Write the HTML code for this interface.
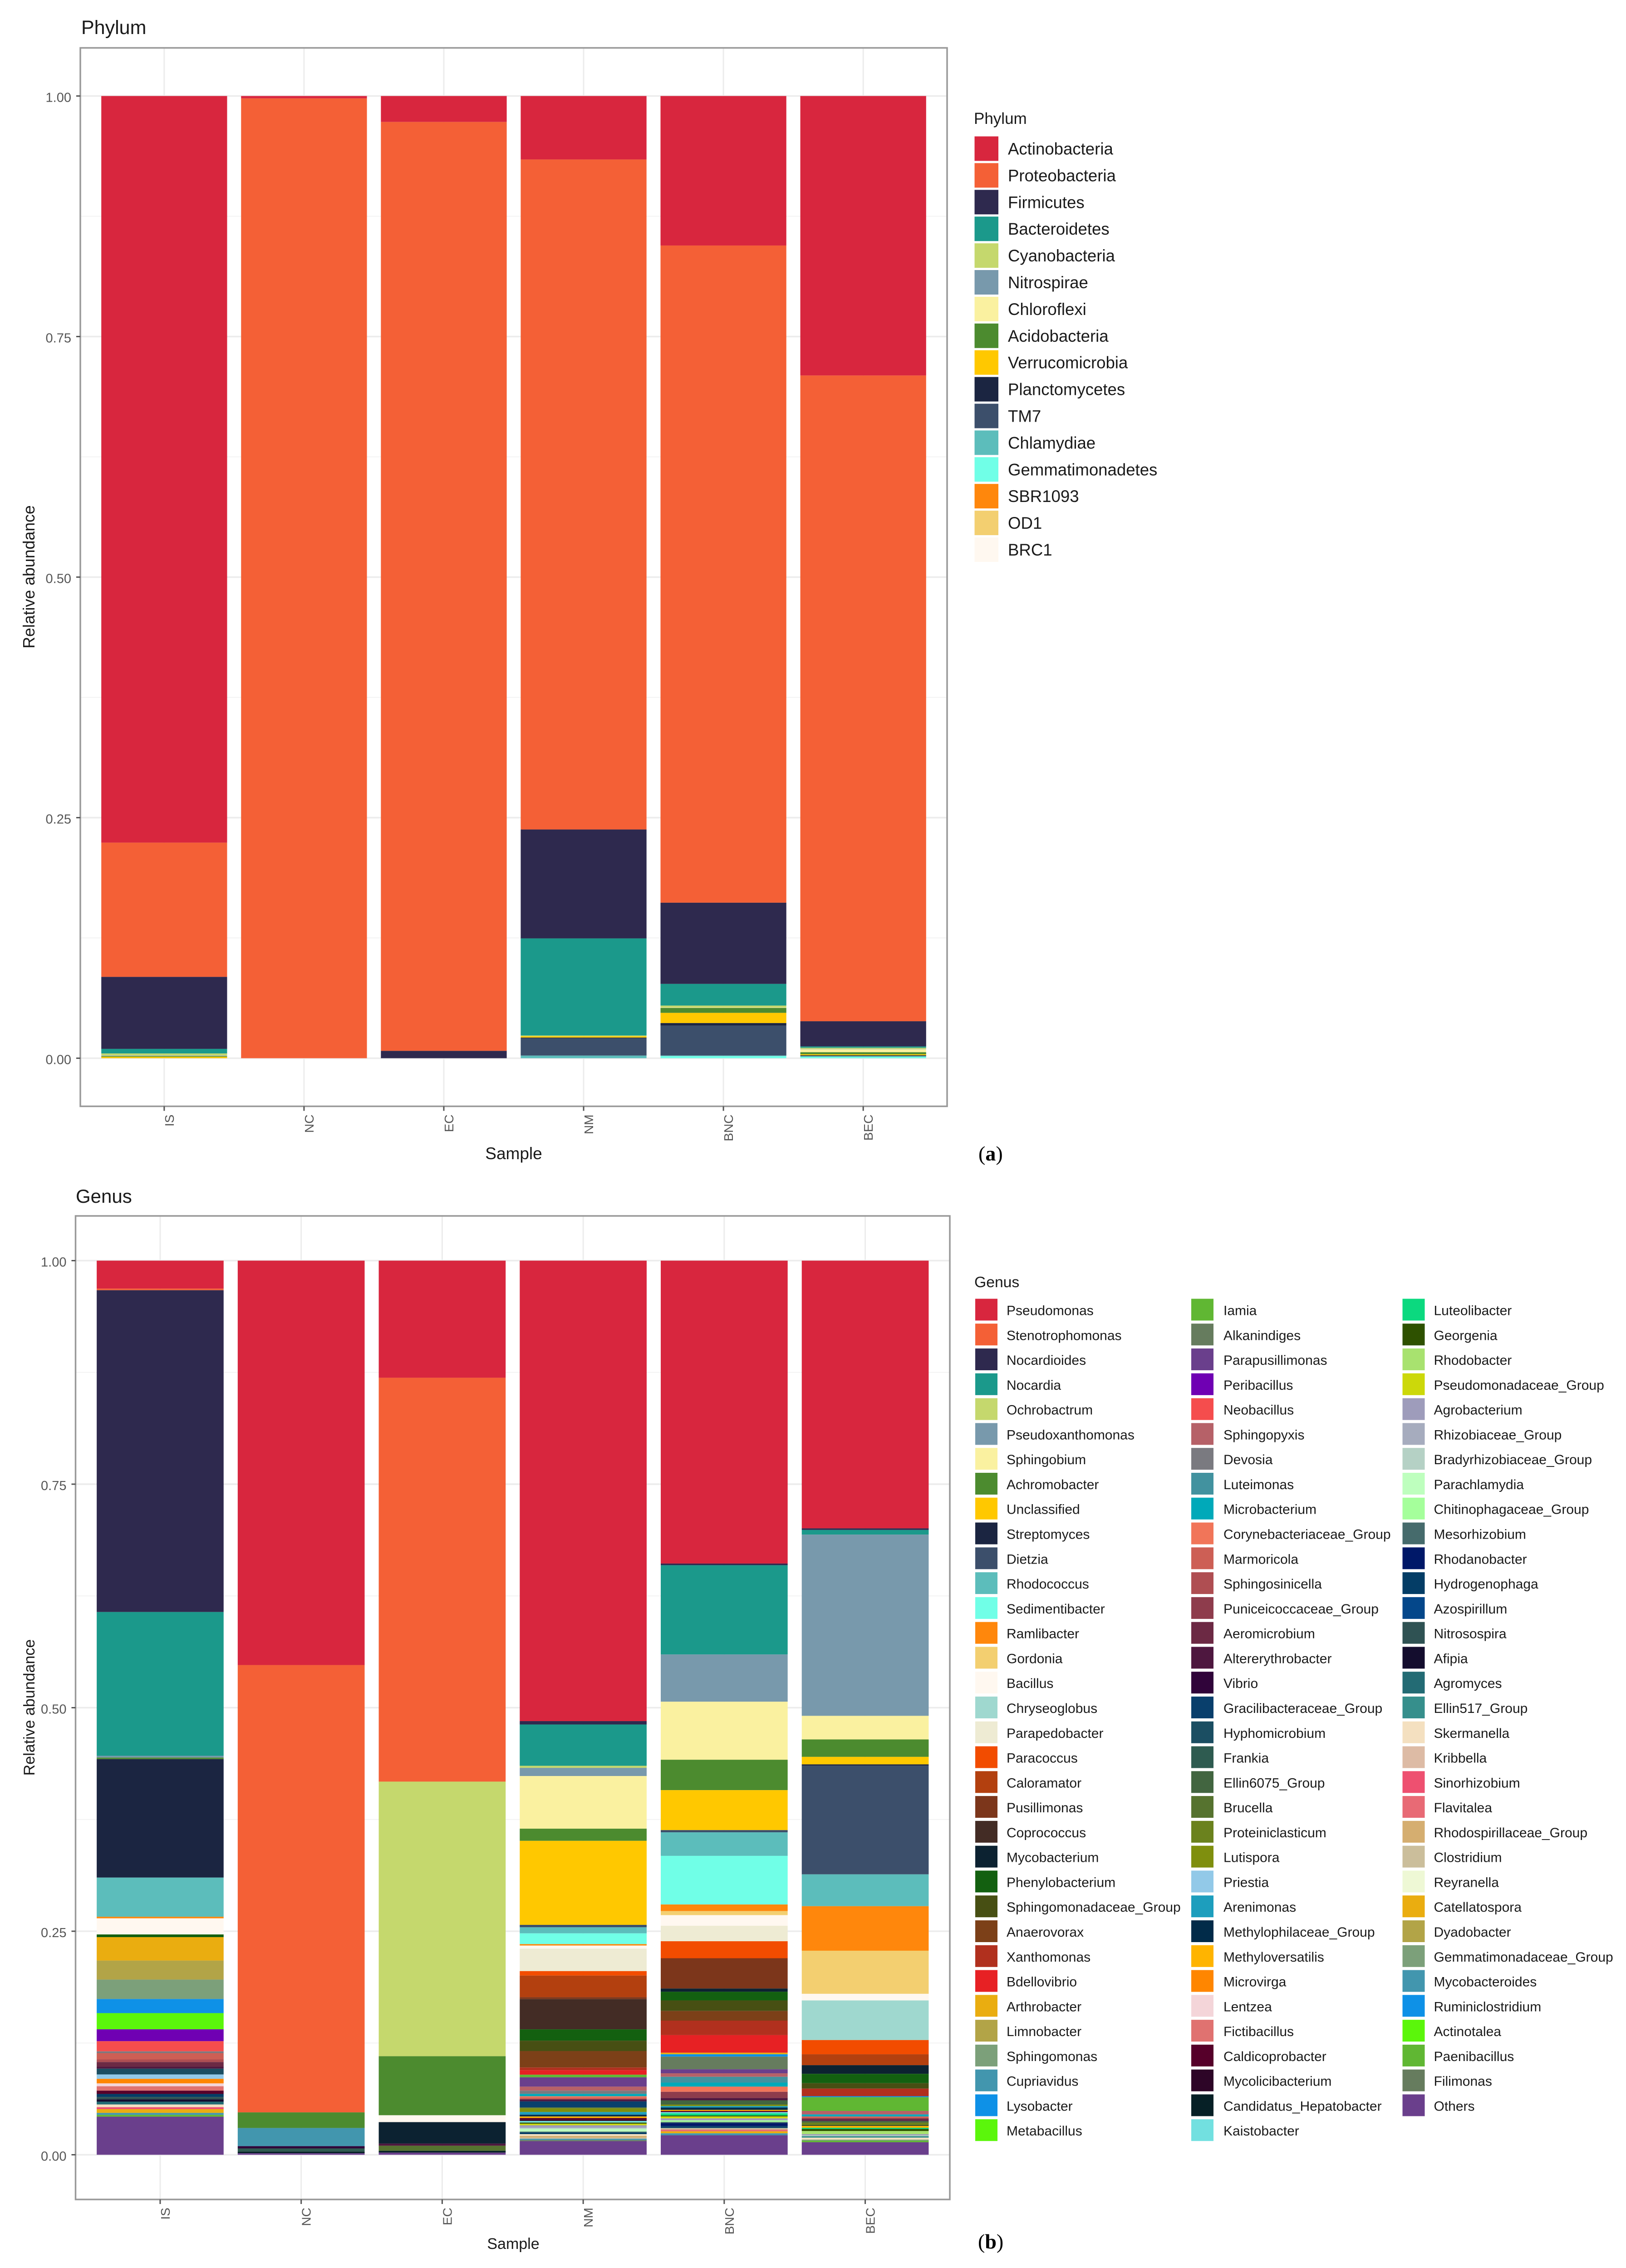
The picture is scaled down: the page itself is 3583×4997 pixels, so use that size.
<!DOCTYPE html>
<html lang="en">
<head>
<meta charset="utf-8">
<title>Relative abundance by Phylum and Genus</title>
<style>
html,body{margin:0;padding:0;background:#fff;}
body{width:3583px;height:4997px;overflow:hidden;}
svg{display:block;font-family:"Liberation Sans",sans-serif;}
</style>
</head>
<body>
<svg id="figure" xmlns="http://www.w3.org/2000/svg" width="3583" height="4997" viewBox="0 0 3583 4997">
  <rect x="0" y="0" width="3583" height="4997" fill="#ffffff"/>
</svg>
<script>
const sampleLabels = ["IS","NC","EC","NM","BNC","BEC"];
const yTickLabels = ["0.00","0.25","0.50","0.75","1.00"];
const yTickValues = [0,0.25,0.5,0.75,1];
const yMinorValues = [0.125,0.375,0.625,0.875];

const phylumNames = ["Actinobacteria","Proteobacteria","Firmicutes","Bacteroidetes","Cyanobacteria","Nitrospirae","Chloroflexi","Acidobacteria","Verrucomicrobia","Planctomycetes","TM7","Chlamydiae","Gemmatimonadetes","SBR1093","OD1","BRC1"];
const phylumIS  = [0.776,0.1395,0.0748,0.0048,0.0019,0.0004,0.0004,0.0008,0.0014,0,0,0,0,0,0,0];
const phylumNC  = [0.0025,0.9975,0,0,0,0,0,0,0,0,0,0,0,0,0,0];
const phylumEC  = [0.027,0.9654,0.0076,0,0,0,0,0,0,0,0,0,0,0,0,0];
const phylumNM  = [0.066,0.6963,0.1132,0.1009,0.0009,0,0,0,0.0013,0.0008,0.0179,0.0027,0,0,0,0];
const phylumBNC = [0.1554,0.683,0.0844,0.0225,0.0019,0,0.0005,0.0052,0.0106,0.0027,0.0311,0.0005,0.0022,0,0,0];
const phylumBEC = [0.2905,0.6711,0.0262,0.0014,0.0011,0.0003,0.0032,0.0021,0.0011,0.0008,0,0.0008,0.0014,0,0,0];
const phylumSeries = [phylumIS,phylumNC,phylumEC,phylumNM,phylumBNC,phylumBEC];

const genusNames = ["Pseudomonas","Stenotrophomonas","Nocardioides","Nocardia","Ochrobactrum","Pseudoxanthomonas","Sphingobium","Achromobacter","Unclassified","Streptomyces","Dietzia","Rhodococcus","Sedimentibacter","Ramlibacter","Gordonia","Bacillus","Chryseoglobus","Parapedobacter","Paracoccus","Caloramator","Pusillimonas","Coprococcus","Mycobacterium","Phenylobacterium","Sphingomonadaceae_Group","Anaerovorax","Xanthomonas","Bdellovibrio","Arthrobacter","Limnobacter","Sphingomonas","Cupriavidus","Lysobacter","Metabacillus","Iamia","Alkanindiges","Parapusillimonas","Peribacillus","Neobacillus","Sphingopyxis","Devosia","Luteimonas","Microbacterium","Corynebacteriaceae_Group","Marmoricola","Sphingosinicella","Puniceicoccaceae_Group","Aeromicrobium","Altererythrobacter","Vibrio","Gracilibacteraceae_Group","Hyphomicrobium","Frankia","Ellin6075_Group","Brucella","Proteiniclasticum","Lutispora","Priestia","Arenimonas","Methylophilaceae_Group","Methyloversatilis","Microvirga","Lentzea","Fictibacillus","Caldicoprobacter","Mycolicibacterium","Candidatus_Hepatobacter","Kaistobacter","Luteolibacter","Georgenia","Rhodobacter","Pseudomonadaceae_Group","Agrobacterium","Rhizobiaceae_Group","Bradyrhizobiaceae_Group","Parachlamydia","Chitinophagaceae_Group","Mesorhizobium","Rhodanobacter","Hydrogenophaga","Azospirillum","Nitrosospira","Afipia","Agromyces","Ellin517_Group","Skermanella","Kribbella","Sinorhizobium","Flavitalea","Rhodospirillaceae_Group","Clostridium","Reyranella","Catellatospora","Dyadobacter","Gemmatimonadaceae_Group","Mycobacteroides","Ruminiclostridium","Actinotalea","Paenibacillus","Filimonas","Others"];
const paletteColors = ["#D8263E","#F46036","#2E294E","#1B998B","#C5D86D","#7899AC","#FAF1A0","#4C8B2F","#FFC800","#1B2541","#3C4F6B","#5CBDBB","#70FFE7","#FF870C","#F3CF70","#FFF8F0","#9FD8CF","#EEEBD3","#F24C00","#B3400F","#7C361B","#432C25","#0C2231","#136010","#474F13","#7C4018","#B1301E","#E72124","#EAAD10","#B2A447","#7CA07A","#4296AE","#0E91E7","#5BF60B","#60B733","#667C5E","#6A3F8C","#6F00B3","#F54D4D","#B66168","#7A7A80","#42929F","#00A9B9","#F17559","#CD5F55","#AF4E52","#8E3C4C","#6C2944","#4E173F","#30043A","#093F6C","#1B4E62","#2E5B50","#426540","#56732F","#6B821E","#7F8F0E","#92C9E8","#1D9EBD","#012B49","#FFB400","#FF8600","#F4D5D9","#E07270","#56002A","#2D0527","#062026","#72E0E0","#0BD97F","#2E5100","#A8E26F","#CCD80A","#9E9CBB","#A6ACBE","#B5D1C5","#BEFFBE","#A5FF9B","#466B6C","#001868","#043D66","#04478A","#2F5253","#140D2E","#236B74","#368F8C","#F4E0C0","#DDBBA5","#EE5070","#E86A75","#D5AE70","#CBBE9B","#EEF8D5","#EAAD10","#B2A447","#7CA07A","#4296AE","#0E91E7","#5BF60B","#60B733","#667C5E","#6A3F8C"];

const genusIS_taxa = ["Pseudomonas","Stenotrophomonas","Nocardioides","Nocardia","Pseudoxanthomonas","Achromobacter","Streptomyces","Rhodococcus","Ramlibacter","Bacillus","Phenylobacterium","Arthrobacter","Limnobacter","Sphingomonas","Lysobacter","Metabacillus","Peribacillus","Neobacillus","Devosia","Marmoricola","Sphingosinicella","Aeromicrobium","Altererythrobacter","Hyphomicrobium","Priestia","Microvirga","Lentzea","Fictibacillus","Caldicoprobacter","Hydrogenophaga","Nitrosospira","Afipia","Agromyces","Skermanella","Sinorhizobium","Catellatospora","Mycobacteroides","Paenibacillus","Others"];
const genusIS_values = [0.0313,0.0018,0.3599,0.1608,0.002,0.0017,0.1325,0.0438,0.0018,0.018,0.003,0.0262,0.0213,0.0217,0.0158,0.0181,0.0133,0.0114,0.0019,0.0071,0.0029,0.0052,0.0022,0.0065,0.0049,0.0051,0.0032,0.0049,0.0037,0.0034,0.0026,0.0026,0.0032,0.003,0.0022,0.0042,0.0022,0.002,0.0426];

const genusNC_taxa = ["Pseudomonas","Stenotrophomonas","Achromobacter","Cupriavidus","Vibrio","Frankia","Candidatus_Hepatobacter","Others"];
const genusNC_values = [0.4523,0.5003,0.0175,0.0203,0.0025,0.0036,0.0018,0.0017];

const genusEC_taxa = ["Pseudomonas","Stenotrophomonas","Ochrobactrum","Achromobacter","Bacillus","Mycobacterium","Altererythrobacter","Brucella","Candidatus_Hepatobacter","Others"];
const genusEC_values = [0.131,0.4517,0.3071,0.066,0.0077,0.024,0.0024,0.0057,0.002,0.0024];

const genusNM_taxa = ["Pseudomonas","Nocardioides","Nocardia","Ochrobactrum","Pseudoxanthomonas","Sphingobium","Achromobacter","Unclassified","Dietzia","Rhodococcus","Sedimentibacter","Ramlibacter","Bacillus","Parapedobacter","Paracoccus","Caloramator","Pusillimonas","Coprococcus","Phenylobacterium","Sphingomonadaceae_Group","Anaerovorax","Xanthomonas","Bdellovibrio","Iamia","Parapusillimonas","Sphingopyxis","Devosia","Microbacterium","Corynebacteriaceae_Group","Marmoricola","Altererythrobacter","Gracilibacteraceae_Group","Brucella","Lutispora","Arenimonas","Methylophilaceae_Group","Methyloversatilis","Caldicoprobacter","Candidatus_Hepatobacter","Kaistobacter","Georgenia","Pseudomonadaceae_Group","Agrobacterium","Bradyrhizobiaceae_Group","Parachlamydia","Mesorhizobium","Hydrogenophaga","Skermanella","Rhodospirillaceae_Group","Clostridium","Mycobacteroides","Filimonas","Others"];
const genusNM_values = [0.515,0.0038,0.0462,0.0023,0.0091,0.0589,0.0136,0.094,0.0027,0.0068,0.012,0.0016,0.0035,0.0251,0.005,0.0242,0.0022,0.0337,0.0127,0.0116,0.0184,0.003,0.0051,0.0029,0.0104,0.0045,0.0036,0.0027,0.0013,0.0021,0.0023,0.0068,0.001,0.0041,0.003,0.002,0.0017,0.0028,0.0006,0.0017,0.0013,0.0017,0.0028,0.0013,0.003,0.001,0.0018,0.002,0.002,0.0012,0.0015,0.0012,0.0152];

const genusBNC_taxa = ["Pseudomonas","Nocardioides","Nocardia","Pseudoxanthomonas","Sphingobium","Achromobacter","Unclassified","Dietzia","Rhodococcus","Sedimentibacter","Ramlibacter","Gordonia","Bacillus","Parapedobacter","Paracoccus","Pusillimonas","Mycobacterium","Phenylobacterium","Sphingomonadaceae_Group","Anaerovorax","Xanthomonas","Bdellovibrio","Arthrobacter","Lysobacter","Alkanindiges","Parapusillimonas","Sphingopyxis","Luteimonas","Microbacterium","Corynebacteriaceae_Group","Puniceicoccaceae_Group","Altererythrobacter","Ellin6075_Group","Lutispora","Arenimonas","Methylophilaceae_Group","Methyloversatilis","Caldicoprobacter","Kaistobacter","Luteolibacter","Georgenia","Pseudomonadaceae_Group","Agrobacterium","Chitinophagaceae_Group","Mesorhizobium","Rhodanobacter","Hydrogenophaga","Clostridium","Flavitalea","Catellatospora","Mycobacteroides","Others"];
const genusBNC_values = [0.3388,0.0019,0.0998,0.0528,0.0649,0.034,0.0447,0.0025,0.0263,0.0544,0.0074,0.0045,0.0119,0.0173,0.019,0.0339,0.0036,0.0097,0.0118,0.0108,0.0162,0.0197,0.0017,0.0026,0.0142,0.0045,0.0039,0.0065,0.0045,0.0058,0.007,0.0025,0.0048,0.0017,0.0016,0.0026,0.0012,0.0013,0.0014,0.0024,0.0011,0.0021,0.0022,0.0018,0.0012,0.0034,0.0022,0.0017,0.002,0.0022,0.0022,0.0218];

const genusBEC_taxa = ["Pseudomonas","Nocardioides","Nocardia","Pseudoxanthomonas","Sphingobium","Achromobacter","Unclassified","Streptomyces","Dietzia","Rhodococcus","Ramlibacter","Gordonia","Bacillus","Chryseoglobus","Paracoccus","Caloramator","Mycobacterium","Phenylobacterium","Sphingomonadaceae_Group","Xanthomonas","Lysobacter","Iamia","Sphingopyxis","Microbacterium","Marmoricola","Aeromicrobium","Altererythrobacter","Ellin6075_Group","Proteiniclasticum","Candidatus_Hepatobacter","Methyloversatilis","Luteolibacter","Georgenia","Rhodobacter","Agrobacterium","Bradyrhizobiaceae_Group","Ellin517_Group","Skermanella","Gemmatimonadaceae_Group","Paenibacillus","Others"];
const genusBEC_values = [0.2994,0.0018,0.0052,0.2027,0.0264,0.0195,0.0084,0.0015,0.1215,0.0356,0.0498,0.0482,0.0074,0.0443,0.0159,0.0122,0.0097,0.0104,0.0061,0.0085,0.0011,0.0154,0.0039,0.0023,0.0022,0.0019,0.001,0.0017,0.003,0.0007,0.0021,0.0013,0.0024,0.0034,0.0013,0.001,0.0017,0.0022,0.0012,0.0017,0.014];

const genusTaxa = [genusIS_taxa,genusNC_taxa,genusEC_taxa,genusNM_taxa,genusBNC_taxa,genusBEC_taxa];
const genusSeries = [genusIS_values,genusNC_values,genusEC_values,genusNM_values,genusBNC_values,genusBEC_values];

const svg = document.getElementById('figure');
const NS = 'http://www.w3.org/2000/svg';

function make(tag, parent, props){
  const el = document.createElementNS(NS, tag);
  for (const k in props) el.setAttribute(k, props[k]);
  parent.appendChild(el);
  return el;
}

function drawAxesFrame(g, p){
  const xScale = i => p.left + (i + 0.6) * (p.right - p.left) / 6.2;
  const yScale = v => p.bottom - (v + 0.05) * (p.bottom - p.top) / 1.1;
  yMinorValues.forEach(v => {
    const line = make('line', g, {x1:p.left, x2:p.right, y1:yScale(v), y2:yScale(v), stroke:'#f3f3f3', 'stroke-width':2});
    
    
  });
  yTickValues.forEach(v => {
    const line = make('line', g, {x1:p.left, x2:p.right, y1:yScale(v), y2:yScale(v), stroke:'#ececec', 'stroke-width':3.5});
    
    
  });
  sampleLabels.forEach((s, i) => {
    const line = make('line', g, {x1:xScale(i), x2:xScale(i), y1:p.top, y2:p.bottom, stroke:'#ececec', 'stroke-width':3});
    
    
  });
  return {xScale, yScale};
}

function drawPanelDecor(g, p, sc){
  const frame = make('rect', g, {x:p.left, y:p.top, width:p.right-p.left, height:p.bottom-p.top, fill:'none', stroke:'#999999', 'stroke-width':3.5});
  
  

  yTickValues.forEach((v, i) => {
    const tick = make('line', g, {x1:p.left-9, x2:p.left, y1:sc.yScale(v), y2:sc.yScale(v), stroke:'#555555', 'stroke-width':3});
    
    
    const label = make('text', g, {x:p.left-20, y:sc.yScale(v)+13, 'text-anchor':'end', 'font-size':29, fill:'#555555'});
    label.textContent = yTickLabels[i];
    
    
  });
  sampleLabels.forEach((s, i) => {
    const x = sc.xScale(i);
    const tick = make('line', g, {x1:x, x2:x, y1:p.bottom, y2:p.bottom+10, stroke:'#555555', 'stroke-width':3});
    
    
    const bx = x + p.xLabelShift;
    const ty = p.bottom + 18;
    const label = make('text', g, {x:bx, y:ty, 'text-anchor':'end', 'font-size':28, fill:'#555555', transform:'rotate(-90 '+bx+' '+ty+')'});
    label.textContent = s;
    
    
  });
}

function drawText(g, content, x, y, size, name, extra){
  const t = make('text', g, Object.assign({x:x, y:y, 'font-size':size, fill:'#1a1a1a'}, extra || {}));
  t.textContent = content;
  
  
  return t;
}

function drawStack(g, sc, p, i, taxa, values, allNames){
  const step = (p.right - p.left) / 6.2;
  const w = step * 0.9;
  let cum = 1;
  values.forEach((v, k) => {
    if (v <= 0) return;
    const yTop = sc.yScale(cum);
    const yBot = sc.yScale(cum - v);
    const color = paletteColors[allNames.indexOf(taxa[k])];
    const seg = make('rect', g, {x:sc.xScale(i)-w/2, y:yTop, width:w, height:yBot-yTop, fill:color});
    
    
    cum -= v;
  });
}

/* Panel A: Phylum */
const panelA = {left:177, right:2087, top:105.5, bottom:2437.5, xLabelShift:21};
const chartA = make('g', svg, {});


const scaleA = drawAxesFrame(chartA, panelA);
phylumSeries.forEach((vals, i) => drawStack(chartA, scaleA, panelA, i, phylumNames, vals, phylumNames));
drawPanelDecor(chartA, panelA, scaleA);
drawText(chartA, 'Phylum', 179, 75, 43, 'phylum-chart-title');
drawText(chartA, 'Sample', 1132, 2554, 37, 'x-axis-title', {'text-anchor':'middle'});
drawText(chartA, 'Relative abundance', 76, 1271, 35.7, 'y-axis-title', {'text-anchor':'middle', transform:'rotate(-90 76 1271)'});

/* Panel B: Genus */
const panelB = {left:166.5, right:2093, top:2679, bottom:4846, xLabelShift:21};
const chartB = make('g', svg, {});


const scaleB = drawAxesFrame(chartB, panelB);
genusSeries.forEach((vals, i) => drawStack(chartB, scaleB, panelB, i, genusTaxa[i], vals, genusNames));
drawPanelDecor(chartB, panelB, scaleB);
drawText(chartB, 'Genus', 167, 2650, 42, 'genus-chart-title');
drawText(chartB, 'Sample', 1131, 4955, 34, 'x-axis-title', {'text-anchor':'middle'});
drawText(chartB, 'Relative abundance', 76, 3762, 34, 'y-axis-title', {'text-anchor':'middle', transform:'rotate(-90 76 3762)'});

/* Panel letters */
function panelLetter(letter, x, y, name){
  const t = make('text', svg, {x:x, y:y, 'font-size':46, fill:'#000000', style:'font-family:"Liberation Serif",serif;'});
  
  
  const a = make('tspan', t, {}); a.textContent = '(';
  const b = make('tspan', t, {'font-weight':'bold'}); b.textContent = letter;
  const c = make('tspan', t, {}); c.textContent = ')';
}
panelLetter('a', 2156, 2557, 'panel-label-a');
panelLetter('b', 2155, 4954, 'panel-label-b');

/* Legends */
const legendA = make('g', svg, {});


drawText(legendA, 'Phylum', 2146, 273, 35, 'legend-title');
phylumNames.forEach((n, i) => {
  const cy = 327.5 + 58.9 * i;
  const sw = make('rect', legendA, {x:2147.5, y:cy-27, width:52.5, height:54, fill:paletteColors[i]});
  
  
  drawText(legendA, n, 2221, cy+13, 36.6, 'legend-entry');
});

const legendB = make('g', svg, {});


drawText(legendB, 'Genus', 2147, 2836, 33.7, 'legend-title');
genusNames.forEach((n, i) => {
  const col = Math.floor(i / 34);
  const row = i - col * 34;
  const cy = 2885.5 + 54.78 * row;
  const sx = [2149, 2625, 3090.5][col];
  const tx = [2218, 2696, 3159.5][col];
  const sw = make('rect', legendB, {x:sx, y:cy-24, width:49, height:48, fill:paletteColors[i]});
  
  
  drawText(legendB, n, tx, cy+12, 30, 'legend-entry');
});
</script>
</body>
</html>
